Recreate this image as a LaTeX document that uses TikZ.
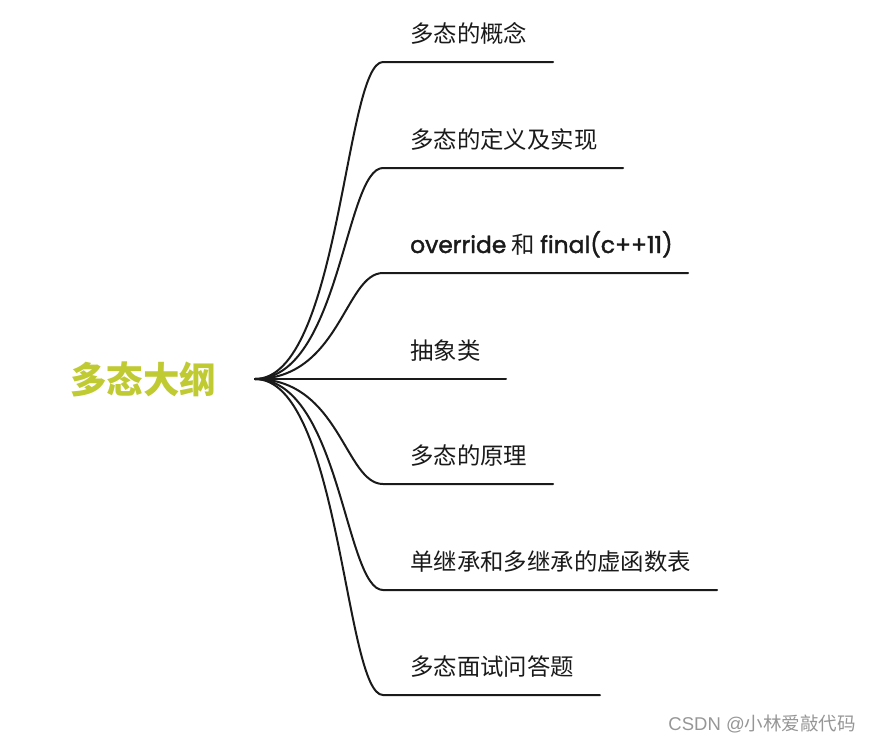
\documentclass[tikz,border=0pt]{standalone}
\usepackage{fontspec}
\setmainfont{Noto Sans CJK SC}
\newfontfamily\latinfont[FakeBold=1.6]{Poppins}
\newfontfamily\markfont{Liberation Sans}
\usepackage{tikz}
\usetikzlibrary{positioning}
\definecolor{titlegreen}{RGB}{192,202,51}
\definecolor{inkblack}{RGB}{26,26,26}
\definecolor{markgray}{RGB}{150,150,150}
\tikzset{
  title/.style={font=\fontsize{36.5}{40}\selectfont\bfseries, text=titlegreen, inner sep=0pt},
  topic/.style={font=\fontsize{23.4}{27}\selectfont, text=inkblack, anchor=base west, inner sep=0pt},
  branch/.style={line width=2pt, draw=inkblack, line cap=round},
  watermark/.style={font=\fontsize{18.5}{20}\selectfont, text=markgray, anchor=east, inner sep=0pt},
}

\begin{document}
\begin{tikzpicture}[x=1pt, y=-1pt]
\useasboundingbox (0,0) rectangle (870,744);
\node[title] (root) at (143,379) {多态大纲};
\coordinate (hub) at (255,379);
\foreach \n/\y/\e/\t in {1/62/553/{多态的概念}, 2/168/623/{多态的定义及实现},
    3/273/688/{{\latinfont override} 和 {\latinfont final(c++11)}}, 4/379/506/{抽象类},
    5/484/553/{多态的原理}, 6/590/717/{单继承和多继承的虚函数表}, 7/695/600/{多态面试问答题}}{
  \coordinate (b\n) at (383,\y);
  \coordinate (e\n) at (\e,\y);
  \node[topic] (t\n) at (410,\y-20) {\t};
  \draw[branch] (hub) .. controls (340,379) and (345,\y) .. (b\n) -- (e\n);
}
\node[watermark] (credit) at (856,724) {{\markfont CSDN @}小林爱敲代码};
\end{tikzpicture}
\end{document}
